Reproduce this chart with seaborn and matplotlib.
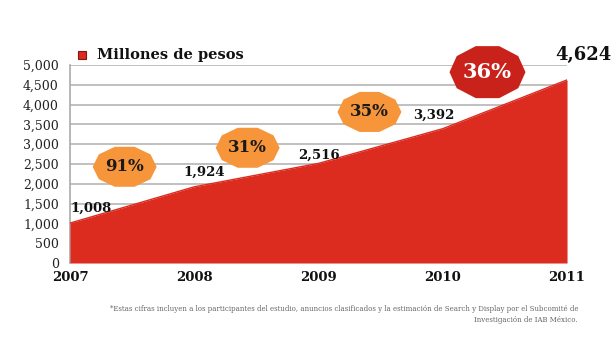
import numpy as np
import pandas as pd
import matplotlib
matplotlib.use("Agg")
import matplotlib.pyplot as plt
import matplotlib.patches as mpatches
from matplotlib.transforms import Affine2D, ScaledTranslation
import seaborn as sns

# data
years = [2007, 2008, 2009, 2010, 2011]
values = [1008, 1924, 2516, 3392, 4624]
value_labels = ["1,008", "1,924", "2,516", "3,392", "4,624"]
growth = ["91%", "31%", "35%", "36%"]
yticks = [0, 500, 1000, 1500, 2000, 2500, 3000, 3500, 4000, 4500, 5000]

df = pd.DataFrame({"year": years, "value": values})

sns.set_theme(style="white")
plt.rcParams["font.family"] = ["DejaVu Serif"]

fig = plt.figure(figsize=(6.16, 3.52), dpi=100)
ax = fig.add_axes([0.1136, 0.2528, 0.8069, 0.5625])

red = "#DC2B1F"
dark_red = "#C9221B"
orange = "#F7953B"

ax.fill_between(df["year"], 0, df["value"], color=red, lw=0, zorder=3)
sns.lineplot(data=df, x="year", y="value", color=red, lw=1, ax=ax, zorder=3)

ax.set_xlim(2007, 2011)
ax.set_ylim(0, 5000)
ax.set_yticks(yticks)
ax.set_yticklabels([f"{v:,}" for v in yticks], fontsize=9, color="#222222")
ax.set_xticks(years)
ax.set_xticklabels([str(y) for y in years], fontsize=9.5, fontweight="bold", color="#111111")
ax.tick_params(axis="x", pad=6, length=0)
ax.tick_params(axis="y", pad=8, length=0)
ax.set_xlabel("")
ax.set_ylabel("")

ax.yaxis.grid(True, color="#b5b5b5", lw=1.2, zorder=1)
ax.set_axisbelow(True)
for s in ["top", "right", "bottom"]:
    ax.spines[s].set_visible(False)
ax.spines["left"].set_color("#aaaaaa")
ax.spines["left"].set_linewidth(1.2)

# value labels
label_pos = [(2007.17, 1370), (2008.08, 2300), (2009.0, 2730), (2009.93, 3730), (2011.13, 5260)]
for (lx, ly), txt in zip(label_pos, value_labels):
    big = txt == value_labels[-1]
    ax.text(lx, ly, txt, fontsize=13 if big else 9.5, fontweight="bold",
            ha="center", va="center", color="#111111", zorder=6, clip_on=False)

# growth badges (decagons, flat top and bottom)
badge_pos = [(2007.44, 2430), (2008.43, 2910), (2009.41, 3815), (2010.36, 4820)]
badge_size = [(64, 40), (64, 40), (64, 40), (76, 52)]
n = 10
ang = np.arange(n) * 2 * np.pi / n
unit = np.column_stack([np.cos(ang), np.sin(ang)])
unit = unit / np.abs(unit).max(axis=0)
for i, ((bx, by), (bw, bh), txt) in enumerate(zip(badge_pos, badge_size, growth)):
    last = i == len(growth) - 1
    tr = Affine2D().scale(bw / 2, bh / 2) + ScaledTranslation(bx, by, ax.transData)
    poly = mpatches.Polygon(unit, closed=True, transform=tr,
                            facecolor=dark_red if last else orange, edgecolor="none",
                            zorder=5, clip_on=False)
    ax.add_artist(poly)
    ax.text(bx, by, txt, fontsize=15 if last else 12, fontweight="bold",
            ha="center", va="center", color="white" if last else "#1a1a1a",
            zorder=6, clip_on=False)

# legend
fig.patches.append(mpatches.Rectangle((78 / 616, 1 - 59 / 352), 8 / 616, 8 / 352,
                                      transform=fig.transFigure, facecolor=red,
                                      edgecolor="#7a1a12", lw=0.8))
fig.text(97 / 616, 1 - 55 / 352, "Millones de pesos", fontsize=10.5,
         fontweight="bold", va="center", ha="left", color="#111111")

# footnote
fig.text(578 / 616, 1 - 309 / 352,
         "*Estas cifras incluyen a los participantes del estudio, anuncios clasificados y la estimación de Search y Display por el Subcomité de",
         fontsize=5, ha="right", va="center", color="#666666")
fig.text(578 / 616, 1 - 320 / 352, "Investigación de IAB México.",
         fontsize=5, ha="right", va="center", color="#666666")

fig.savefig("out.png", dpi=100)
